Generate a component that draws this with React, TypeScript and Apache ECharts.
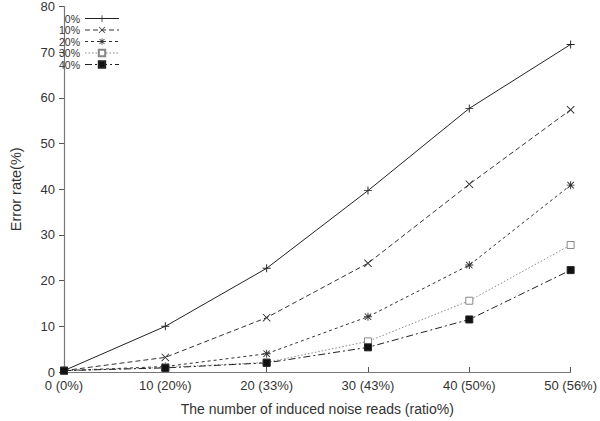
import React, { useEffect, useRef } from "react";
import * as echarts from "echarts";

const xLabels = ["0 (0%)", "10 (20%)", "20 (33%)", "30 (43%)", "40 (50%)", "50 (56%)"];
const seriesNames = ["0%", "10%", "20%", "30%", "40%"];
const s0 = [0.3, 10, 22.7, 39.7, 57.7, 71.7];
const s10 = [0.3, 3.2, 11.9, 23.8, 41.1, 57.4];
const s20 = [0.3, 1.2, 4.0, 12.1, 23.4, 40.9];
const s30 = [0.3, 1.0, 2.1, 6.7, 15.6, 27.8];
const s40 = [0.3, 0.9, 2.0, 5.4, 11.5, 22.3];
const yTicks = { min: 0, max: 80, interval: 10 };

const PLUS = "path://M4.4,0H5.6V4.4H10V5.6H5.6V10H4.4V5.6H0V4.4H4.4Z";
const CROSS =
  "path://M0.8,0L5,4.2L9.2,0L10,0.8L5.8,5L10,9.2L9.2,10L5,5.8L0.8,10L0,9.2L4.2,5L0,0.8Z";
const STAR =
  "path://M4.4,0H5.6V3.6L8.6,0.6L9.4,1.4L6.4,4.4H10V5.6H6.4L9.4,8.6L8.6,9.4L5.6,6.4V10H4.4V6.4L1.4,9.4L0.6,8.6L3.6,5.6H0V4.4H3.6L0.6,1.4L1.4,0.6L4.4,3.6Z";

export default function App() {
  const ref = useRef<HTMLDivElement>(null);
  useEffect(() => {
    if (!ref.current) return;
    const chart = echarts.init(ref.current, undefined, { renderer: "svg" });
    const font = "'Liberation Sans', Arial, Helvetica, sans-serif";
    const mk = (
      name: string,
      data: number[],
      color: string,
      type: any,
      symbol: string,
      size: number,
      fill: string
    ) => ({
      name,
      type: "line",
      data,
      symbol,
      symbolSize: size,
      showAllSymbol: true,
      lineStyle: { color, width: 1, type },
      itemStyle: { color: fill, borderColor: color, borderWidth: symbol === "rect" ? 1 : 0 },
      z: 3,
    });
    chart.setOption({
      animation: false,
      backgroundColor: "#ffffff",
      textStyle: { fontFamily: font },
      grid: { left: 50, right: 28, top: 6, bottom: 43, containLabel: false },
      legend: {
        orient: "vertical",
        left: 53,
        top: 8,
        align: "right",
        itemWidth: 34,
        itemHeight: 8,
        itemGap: 0.5,
        lineStyle: { width: 1 },
        textStyle: {
          fontSize: 10.5,
          lineHeight: 11,
          color: "#333",
          fontFamily: font,
          width: 22,
          align: "right",
        },
        data: seriesNames,
      },
      xAxis: {
        type: "category",
        data: xLabels,
        boundaryGap: false,
        name: "The number of induced noise reads (ratio%)",
        nameLocation: "middle",
        nameGap: 30,
        nameTextStyle: { fontSize: 14, color: "#333", fontFamily: font },
        axisLine: { lineStyle: { color: "#777", width: 1.2 } },
        axisTick: { inside: true, length: 5, lineStyle: { color: "#555" } },
        axisLabel: { fontSize: 13, color: "#333", margin: 7, fontFamily: font, showMaxLabel: true },
        splitLine: { show: false },
      },
      yAxis: {
        type: "value",
        min: yTicks.min,
        max: yTicks.max,
        interval: yTicks.interval,
        name: "Error rate(%)",
        nameLocation: "middle",
        nameGap: 41,
        nameTextStyle: { fontSize: 14.5, color: "#333", fontFamily: font },
        axisLine: { show: true, lineStyle: { color: "#777", width: 1.2 } },
        axisTick: { show: true, length: 5, lineStyle: { color: "#555" } },
        axisLabel: { fontSize: 13, color: "#333", margin: 9, fontFamily: font },
        splitLine: { show: false },
      },
      series: [
        mk(seriesNames[0], s0, "#222", "solid", PLUS, 8, "#222"),
        mk(seriesNames[1], s10, "#333", [5, 3], CROSS, 8, "#333"),
        mk(seriesNames[2], s20, "#333", [3, 3], STAR, 8, "#333"),
        mk(seriesNames[3], s30, "#888", [1.5, 2], "rect", 7, "#ffffff"),
        mk(seriesNames[4], s40, "#222", [7, 3, 2, 3], "rect", 7, "#111"),
      ],
    });
    return () => chart.dispose();
  }, []);
  return (
    <div
      ref={ref}
      style={{ position: "fixed", left: 0, top: 0, width: 600, height: 421, background: "#fff" }}
    />
  );
}
